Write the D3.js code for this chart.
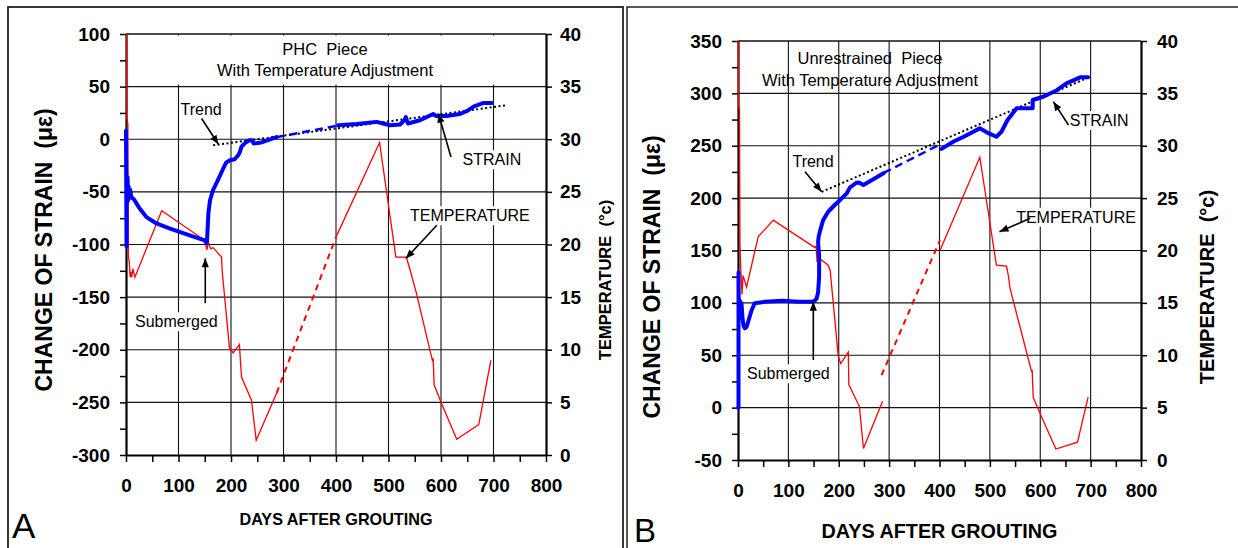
<!DOCTYPE html>
<html><head><meta charset="utf-8">
<script src="https://cdn.jsdelivr.net/npm/d3@7"></script>
<style>
body{margin:0;background:#fff;}
svg{display:block;font-family:Arial,"Liberation Sans",sans-serif;}
text{white-space:pre;}
</style></head><body>
<svg id="chart" width="1238" height="548"></svg>
<script>
// ---------- tick labels ----------
const dayTicks = [0,100,200,300,400,500,600,700,800];
const tempTicks = [0,5,10,15,20,25,30,35,40];
const strainTicksA = [-300,-250,-200,-150,-100,-50,0,50,100];
const strainTicksB = [-50,0,50,100,150,200,250,300,350];

// ---------- Panel A (PHC piece) : [day, strain µε] ----------
const strainA_solid1 = [[0,8],[1,-102],[1.5,-40],[2.5,-60],[3,-36],[4,-58],[5,-45],[6,-56],[8,-48],[10,-55],[15,-57],[25,-65],[39,-74],[58,-80],[84,-85],[120,-91],[150,-96],[154,-99],[155,-90],[157,-70],[160,-58],[166,-48],[173,-41],[185,-28],[191,-22],[198,-20],[207,-19],[214,-15],[217,-12],[220,-7],[228,-3],[235,-1],[240,-1],[243,-4],[258,-3],[287,2]];
const strainA_gap = [[287,2],[404,13]];
const strainA_solid2 = [[404,13.3],[440,14.5],[477,16.5],[490,15],[503,13.3],[522,14],[530,18],[533,21],[537,15],[560,18],[585,24],[591,22],[610,22],[636,24],[650,27],[662,31],[681,34.5],[697,34.5]];
const trendA = [[166,-5.7],[725,32.3]];
// temperature [day, °C]
const tempA_solid1 = [[0,40],[1.3,40],[1.5,32],[3.5,31.5],[4.4,18.8],[6,18.5],[8,16.9],[10,17.4],[11,16.9],[13,17.7],[17,16.9],[68,23.2],[150,20.4],[154,19.5],[157,20.2],[161,19.6],[166,19.7],[182,18.8],[183,17.6],[197,10.2],[204,9.7],[216,10.5],[220,7.4],[239,5.2],[248,1.4],[287,5.9]];
const tempA_gap = [[287,5.9],[400,20.7]];
const tempA_solid2 = [[400,20.7],[483,29.7],[514,18.8],[534,18.8],[541,17.6],[553,15.4],[584,8.9],[585,9.2],[587,6.65],[601,4.9],[630,1.5],[672,2.9],[695,9.0]];

// ---------- Panel B (unrestrained piece) ----------
const strainB_solid1 = [[0,0],[1,0],[1,129],[1.5,100],[2.5,103],[3.5,95],[5,101],[7,99],[9,85],[11,78],[13.5,75.7],[17,77],[22,85],[27,93],[33,99.6],[53,101],[88,102],[120,101],[146,101],[152,102],[156,104],[159,110],[161,125],[161,145],[159,158],[160,163],[163,169],[169,179],[179,187],[189,192],[202,198],[216,204.6],[222,210],[235,214.7],[240,215],[249,212.5],[289,223.7]];
const strainB_gap = [[289,224],[404,252]];
const strainB_solid2 = [[404,247],[428,254],[448,258.6],[480,266.6],[497,262],[513,258.6],[523,263.4],[535,274.6],[553,285.8],[585,285.8],[585,293.7],[606,296.8],[633,303],[652,309.6],[679,315.3],[695,315.3]];
const trendB = [[166,206],[695,315]];
const tempB_solid1 = [[0,40],[0.5,40],[0.8,33.8],[3,33.5],[3.8,20.7],[5,18.8],[8,15.8],[10,17.6],[12,17.3],[17,16.5],[40,21.3],[70,22.9],[152,20.3],[155,20.4],[157,18.9],[160,19.3],[179,18.6],[183,18.1],[199,9.9],[204,9.2],[219,10.3],[220,7.2],[241,5.1],[249,1.1],[287,5.6]];
const tempB_gap = [[285,8.1],[401,21]];
const tempB_solid2 = [[401,20],[480,28.9],[513,18.6],[533,18.5],[537,17.5],[540,16.4],[583,8.4],[584,8.6],[586,6.0],[599,4.5],[631,1.05],[674,1.7],[695,6.0]];

// ---------- annotations (data coordinates: [day, strain]) ----------
const titleA = ["PHC  Piece","With Temperature Adjustment"];
const titleB = ["Unrestrained  Piece","With Temperature Adjustment"];
const notesA = [
  {text:"Trend", at:[143,22.8], from:[144,19.7], to:[176,-4.75], box:false},
  {text:"STRAIN", at:[697,-24.7], from:[619,-16.8], to:[595,24.4], box:true},
  {text:"TEMPERATURE", at:[655,-77.9], from:[592,-81.7], to:[533,-113.4], box:true},
  {text:"Submerged", at:[96,-178.6], from:[151,-155.8], to:[151,-113.1], box:true}
];
const notesB = [
  {text:"Trend", at:[149,230], from:[133,225.2], to:[166,206.1], box:false},
  {text:"STRAIN", at:[717,268.9], from:[656,269.8], to:[626,292.1], box:true},
  {text:"TEMPERATURE", at:[671,176.5], from:[580,180.7], to:[519,167.9], box:true},
  {text:"Submerged", at:[100,27], from:[149.5,45.5], to:[149.5,101.1], box:true}
];

const svg = d3.select("#chart");
const defs = svg.append("defs");
defs.append("marker").attr("id","arr").attr("viewBox","0 0 10 10")
  .attr("refX",10).attr("refY",5).attr("markerWidth",11).attr("markerHeight",9)
  .attr("markerUnits","userSpaceOnUse").attr("orient","auto")
  .append("path").attr("d","M0,1 L10,5 L0,9 Z").attr("fill","#000");

// panel frames
svg.append("rect").attr("x",8).attr("y",7).attr("width",615).attr("height",560)
  .attr("fill","none").attr("stroke","#222").attr("stroke-width",1.8);
svg.append("rect").attr("x",627).attr("y",7).attr("width",640).attr("height",560)
  .attr("fill","none").attr("stroke","#222").attr("stroke-width",1.5);

function drawPanel(o){
  const g = svg.append("g");
  const x = d3.scaleLinear().domain([0,800]).range([o.left,o.right]);
  const yS = d3.scaleLinear().domain(o.sDomain).range([o.bottom,o.top]);
  const yT = d3.scaleLinear().domain([0,40]).range([o.bottom,o.top]);
  const P = p => [x(p[0]), yS(p[1])];

  // gridlines
  g.append("g").selectAll("line").data(o.strainTicks.slice(1)).join("line")
    .attr("x1",x(0)).attr("x2",x(800)).attr("y1",d=>yS(d)).attr("y2",d=>yS(d))
    .attr("stroke","#111").attr("stroke-width",d=>d===o.sDomain[1]?1.6:1.1);
  g.append("g").selectAll("line").data(dayTicks.slice(1,-1)).join("line")
    .attr("x1",d=>x(d)).attr("x2",d=>x(d)).attr("y1",yS(o.sDomain[1])).attr("y2",yS(o.sDomain[0]))
    .attr("stroke","#111").attr("stroke-width",1.1);

  if(o.titleBoxTo!==undefined){
    g.append("rect").attr("x",x(0)+1).attr("y",yS(o.sDomain[1])+1.5)
      .attr("width",x(800)-x(0)-2).attr("height",yS(o.titleBoxTo)-yS(o.sDomain[1])-1.5)
      .attr("fill","#fff");
  }
  // title
  o.title.forEach((t,i)=>{
    g.append("text").attr("x",x(o.titleAt[0])).attr("y",yS(o.titleAt[1])+i*o.titleGap)
      .attr("text-anchor","middle").attr("font-size",16.5).text(t);
  });

  // annotation boxes + texts
  const noteG = g.append("g");
  o.notes.forEach(n=>{
    const t = noteG.append("text").attr("x",x(n.at[0])).attr("y",yS(n.at[1]))
      .attr("text-anchor","middle").attr("font-size",16).text(n.text);
    if(n.box){
      const b = t.node().getBBox();
      noteG.insert("rect","text").attr("x",b.x-3).attr("y",b.y-1).attr("width",b.width+6).attr("height",b.height+2).attr("fill","#fff");
    }
  });

  // axes (drawn before the data so the curves sit on top)
  const styleAxis = (sel)=>{
    sel.select(".domain").attr("stroke","#000").attr("stroke-width",2.2);
    sel.selectAll(".tick line").attr("stroke","#000").attr("stroke-width",1.5);
    sel.selectAll(".tick text").attr("font-size",19).attr("font-weight","bold").attr("fill","#000")
      .attr("font-family",'Arial,"Liberation Sans",sans-serif');
  };
  const minorS = d3.range(o.sDomain[0], o.sDomain[1]+1, 25);
  g.append("g").attr("transform",`translate(${x(0)},0)`)
    .call(d3.axisLeft(yS).tickValues(minorS).tickSize(6).tickSizeOuter(0).tickPadding(10)
      .tickFormat(d=>o.strainTicks.includes(d)?String(d):""))
    .call(styleAxis);
  g.append("g").attr("transform",`translate(${x(800)},0)`)
    .call(d3.axisRight(yT).tickValues(tempTicks).tickSize(6).tickSizeOuter(0).tickPadding(o.rightPad)
      .tickFormat(d=>String(d)))
    .call(styleAxis);
  g.append("g").attr("transform",`translate(0,${yS(o.sDomain[0])})`)
    .call(d3.axisBottom(x).tickValues(d3.range(0,801,50)).tickSize(7).tickSizeOuter(0).tickPadding(17)
      .tickFormat(d=>dayTicks.includes(d)?String(d):""))
    .call(styleAxis);

  // data lines
  const clipId = "clip"+o.id;
  defs.append("clipPath").attr("id",clipId).append("rect")
    .attr("x",x(0)-3).attr("y",yS(o.sDomain[1])-1).attr("width",x(800)-x(0)+3).attr("height",yS(o.sDomain[0])-yS(o.sDomain[1])+1);
  const lg = g.append("g").attr("clip-path",`url(#${clipId})`);
  const lineS = d3.line().x(d=>x(d[0])).y(d=>yS(d[1]));
  const lineT = d3.line().x(d=>x(d[0])).y(d=>yT(d[1]));
  lg.append("path").attr("d",lineT(o.temp1)).attr("fill","none").attr("stroke","#ff0000").attr("stroke-width",1.3);
  lg.append("path").attr("d",lineT(o.tempGap)).attr("fill","none").attr("stroke","#ff0000").attr("stroke-width",2).attr("stroke-dasharray","6,5");
  lg.append("path").attr("d",lineT(o.temp2)).attr("fill","none").attr("stroke","#ff0000").attr("stroke-width",1.3);
  lg.append("path").attr("d",lineS(o.trend)).attr("fill","none").attr("stroke","#000").attr("stroke-width",2).attr("stroke-dasharray","2,2.5");
  lg.append("path").attr("d",lineS(o.strain1)).attr("fill","none").attr("stroke","#0000ff").attr("stroke-width",4).attr("stroke-linejoin","round").attr("stroke-linecap","round");
  lg.append("path").attr("d",lineS(o.strainGap)).attr("fill","none").attr("stroke","#0000ff").attr("stroke-width",2.5).attr("stroke-dasharray","8,5");
  lg.append("path").attr("d",lineS(o.strain2)).attr("fill","none").attr("stroke","#0000ff").attr("stroke-width",4).attr("stroke-linejoin","round").attr("stroke-linecap","round");

  // arrows
  o.notes.forEach(n=>{
    const a = P(n.from), b = P(n.to);
    g.append("line").attr("x1",a[0]).attr("y1",a[1]).attr("x2",b[0]).attr("y2",b[1])
      .attr("stroke","#000").attr("stroke-width",1.6).attr("marker-end","url(#arr)");
  });

  // axis titles
  g.append("text").attr("transform",`translate(${o.leftTitle[0]},${o.leftTitle[1]}) rotate(-90)`)
    .attr("text-anchor","middle").attr("font-size",o.leftTitle[2]).attr("font-weight","bold")
    .text("CHANGE OF STRAIN  (με)");
  g.append("text").attr("transform",`translate(${o.rightTitle[0]},${o.rightTitle[1]}) rotate(-90)`)
    .attr("text-anchor","middle").attr("font-size",o.rightTitle[2]).attr("font-weight","bold")
    .text("TEMPERATURE  (°c)");
  g.append("text").attr("x",(x(0)+x(800))/2).attr("y",o.bottomTitle[0])
    .attr("text-anchor","middle").attr("font-size",o.bottomTitle[1]).attr("font-weight","bold")
    .text("DAYS AFTER GROUTING");
  g.append("text").attr("x",o.letter[0]).attr("y",o.letter[1]).attr("font-size",o.letter[2]).text(o.letter[3]);
}

drawPanel({id:"A", left:126, right:546, top:34, bottom:455, sDomain:[-300,100], strainTicks:strainTicksA,
  strain1:strainA_solid1, strainGap:strainA_gap, strain2:strainA_solid2, trend:trendA,
  temp1:tempA_solid1, tempGap:tempA_gap, temp2:tempA_solid2,
  title:titleA, titleAt:[379,79.8], titleGap:21, titleBoxTo:52, notes:notesA, rightPad:8,
  leftTitle:[52,250,23], rightTitle:[611,280,16.5], bottomTitle:[525,16.2], letter:[12,538,35,"A"]});

drawPanel({id:"B", left:738, right:1141, top:41, bottom:460, sDomain:[-50,350], strainTicks:strainTicksB,
  strain1:strainB_solid1, strainGap:strainB_gap, strain2:strainB_solid2, trend:trendB,
  temp1:tempB_solid1, tempGap:tempB_gap, temp2:tempB_solid2,
  title:titleB, titleAt:[262,328], titleGap:22, notes:notesB, rightPad:10,
  leftTitle:[660,277,23], rightTitle:[1214,287,20], bottomTitle:[538,19.8], letter:[634,542,33,"B"]});
</script>
</body></html>
